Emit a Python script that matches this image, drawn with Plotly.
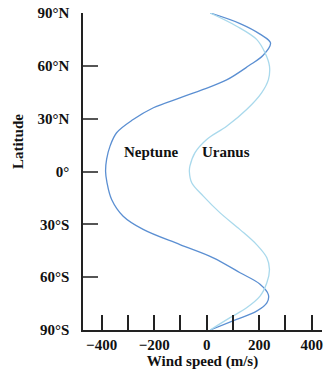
import plotly.graph_objects as go

# Zonal wind profiles (m/s) against planetographic latitude (deg)
neptune_lat = [90, 84, 78, 73, 66, 60, 52, 46.6, 41.8, 36.2, 29.5, 22, 14.4, 7, 0,
               -6, -15.9, -25.4, -32.9, -41.5, -49, -57.5, -64, -70, -74.6, -79.3, -84, -90]
neptune_wind = [13, 127, 203, 243, 215, 160, 76, -13, -102, -203, -280, -343, -368, -381, -385,
                -380, -362, -318, -242, -102, 25, 127, 203, 235, 229, 190, 114, 13]

uranus_lat = [90, 82.5, 75, 67.4, 59.8, 52.2, 44.7, 35.2, 25.7, 18.2, 10.6, 3, 0,
              -6.4, -14, -23.5, -33, -41.5, -49, -55.6, -63.2, -70.8, -77.4, -83, -90]
uranus_wind = [13, 114, 190, 222, 239, 235, 209, 152, 76, 0, -45, -64, -66,
               -57, -13, 51, 127, 190, 229, 239, 229, 203, 152, 89, 13]

lat_ticks = [90, 60, 30, 0, -30, -60, -90]
lat_labels = ["90°N", "60°N", "30°N", "0°", "30°S", "60°S", "90°S"]
wind_ticks = [-400, -300, -200, -100, 0, 100, 200, 300, 400]
wind_labels = ["−400", "", "−200", "", "0", "", "200", "", "400"]

serif = "Liberation Serif"
text_col = "#111111"
bold15 = dict(family=serif, size=15, color=text_col, weight="bold")

fig = go.Figure()
fig.add_trace(go.Scatter(x=neptune_wind, y=neptune_lat, mode="lines",
                         line=dict(color="#5b8fd2", width=1.3, shape="spline", smoothing=1.0),
                         cliponaxis=False, showlegend=False, hoverinfo="skip"))
fig.add_trace(go.Scatter(x=uranus_wind, y=uranus_lat, mode="lines",
                         line=dict(color="#a9d9ec", width=1.3, shape="spline", smoothing=1.0),
                         cliponaxis=False, showlegend=False, hoverinfo="skip"))

fig.add_annotation(x=-212, y=10.8, text="Neptune", showarrow=False, font=bold15)
fig.add_annotation(x=73, y=10.8, text="Uranus", showarrow=False, font=bold15)

# vertical axis title, set a little above the axis midpoint
fig.add_annotation(xref="paper", yref="paper", x=-0.272, y=0.596, text="Latitude",
                   xanchor="center", yanchor="middle",
                   textangle=-90, showarrow=False, font=bold15)

fig.update_layout(
    width=325, height=371,
    margin=dict(l=83, r=3, t=13, b=41),
    paper_bgcolor="white", plot_bgcolor="white",
    font=dict(family=serif, color=text_col),
    xaxis=dict(range=[-471, 439], tickvals=wind_ticks, ticktext=wind_labels,
               ticks="inside", ticklen=15, tickwidth=1.5, tickcolor="#222",
               showline=True, linecolor="#222", linewidth=1.5,
               showgrid=False, zeroline=False,
               tickfont=bold15,
               title=dict(text="Wind speed (m/s)", standoff=1, font=bold15)),
    yaxis=dict(range=[-90, 90], tickvals=lat_ticks, ticktext=lat_labels,
               ticks="inside", ticklen=15, tickwidth=1.5, tickcolor="#555",
               ticklabelstandoff=9,
               showline=True, linecolor="#222", linewidth=1.5,
               showgrid=False, zeroline=False,
               tickfont=bold15),
)

fig.write_html("out.html")
